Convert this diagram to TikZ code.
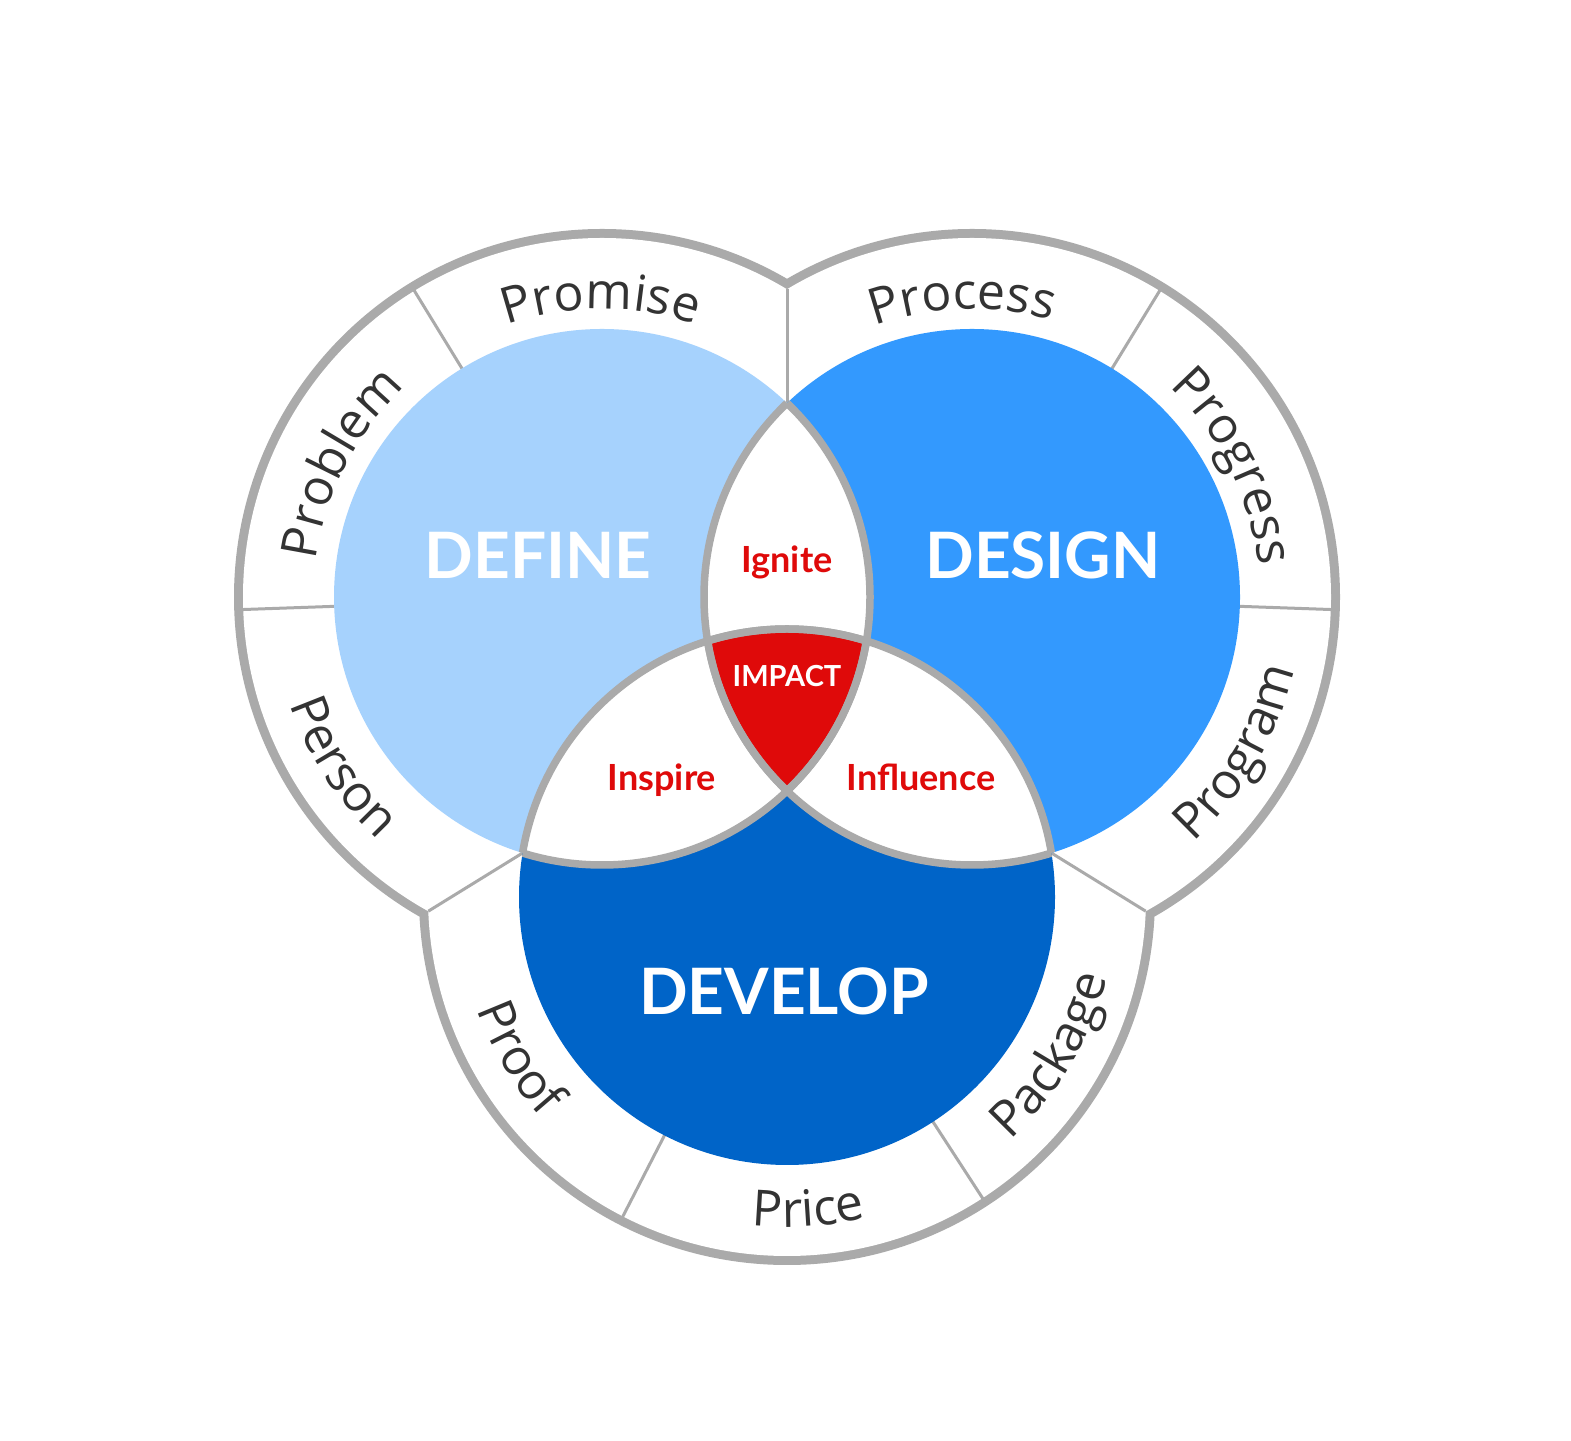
\documentclass[tikz,border=0pt]{standalone}
\usepackage{fontspec}
\usetikzlibrary{calc,decorations.text}
\newfontfamily\latofam{Lato}
\newfontfamily\ringfam{Open Sans}
\newcommand\ringfnt{\ringfam\fontsize{50}{56}\selectfont}
\definecolor{lblue}{HTML}{A6D2FD}
\definecolor{mblue}{HTML}{3399FE}
\definecolor{dblue}{HTML}{0064C8}
\definecolor{impred}{HTML}{DF0A0A}
\definecolor{ringgrey}{HTML}{AAAAAA}
\definecolor{ringtext}{HTML}{333333}
\begin{document}
\begin{tikzpicture}[x=1pt,y=1pt,
  outerstroke/.style={draw=ringgrey, line width=18pt},
  septhin/.style={draw=ringgrey, line width=3pt},
  lensline/.style={draw=ringgrey, line width=7.5pt},
  bigtitle/.style={text=white, font=\latofam\bfseries\fontsize{64}{70}\selectfont, anchor=base, inner sep=0pt},
  redlabel/.style={text=impred, font=\latofam\bfseries\fontsize{36}{40}\selectfont, anchor=base, inner sep=0pt},
  impactlabel/.style={text=white, font=\latofam\bfseries\fontsize{29}{32}\selectfont, anchor=base, inner sep=0pt},
  ringlabel/.style={decorate, decoration={text along path, text align=center, text color=ringtext}}]
\useasboundingbox (0,0) rectangle (1571,1440);
\fill[white] (0,0) rectangle (1571,1440);
% centres
\coordinate (A) at (602,843);
\coordinate (B) at (972,843);
\coordinate (C) at (787,543);
\def\ri{268}
\def\ro{359}
% junction points
\coordinate (iAB) at (787,1036.9);
\coordinate (oAB) at (787,1150.7);
\coordinate (iAC) at (522.6,587.0);
\coordinate (oAC) at (428.3,528.8);
\coordinate (iBC) at (1051.4,587.0);
\coordinate (oBC) at (1145.7,528.8);
% outer ring
\path[outerstroke] (A) circle[radius=\ro] (B) circle[radius=\ro] (C) circle[radius=\ro];
\fill[white] (A) circle[radius=\ro] (B) circle[radius=\ro] (C) circle[radius=\ro];
% separators
\draw[septhin] (iAB) -- (oAB);
\draw[septhin] (iAC) -- (oAC);
\draw[septhin] (iBC) -- (oBC);
\draw[septhin] ($(A)+(121.5:262)$) -- ($(A)+(121.5:362)$);
\draw[septhin] ($(A)+(182:262)$) -- ($(A)+(182:362)$);
\draw[septhin] ($(B)+(58.5:262)$) -- ($(B)+(58.5:362)$);
\draw[septhin] ($(B)+(-2:262)$) -- ($(B)+(-2:362)$);
\draw[septhin] ($(C)+(242.8:262)$) -- ($(C)+(242.8:362)$);
\draw[septhin] ($(C)+(303:262)$) -- ($(C)+(303:362)$);
% inner circles
\fill[lblue] (A) circle[radius=\ri];
\fill[mblue] (B) circle[radius=\ri];
\fill[dblue] (C) circle[radius=\ri];
% pairwise intersections
\begin{scope}
  \clip (A) circle[radius=\ri];
  \fill[white] (B) circle[radius=\ri];
  \fill[white] (C) circle[radius=\ri];
\end{scope}
\begin{scope}
  \clip (B) circle[radius=\ri];
  \fill[white] (C) circle[radius=\ri];
\end{scope}
\begin{scope}
  \clip (A) circle[radius=\ri];
  \clip (B) circle[radius=\ri];
  \fill[impred] (C) circle[radius=\ri];
\end{scope}
% lens outlines
\begin{scope}\clip (B) circle[radius=\ri]; \path[lensline] (A) circle[radius=\ri]; \path[lensline] (C) circle[radius=\ri];\end{scope}
\begin{scope}\clip (A) circle[radius=\ri]; \path[lensline] (B) circle[radius=\ri]; \path[lensline] (C) circle[radius=\ri];\end{scope}
\begin{scope}\clip (C) circle[radius=\ri]; \path[lensline] (A) circle[radius=\ri]; \path[lensline] (B) circle[radius=\ri];\end{scope}
% titles
\node[bigtitle] (define) at (538,861) {DEFINE};
\node[bigtitle] (design) at (1043,861) {DESIGN};
\node[bigtitle] (develop) at (784,425) {DEVELOP};
\node[redlabel] (ignite) at (787,867) {Ignite};
\node[impactlabel] (impact) at (787,753) {IMPACT};
\node[redlabel] (inspire) at (662,649.5) {Inspire};
\node[redlabel] (influence) at (921,649.5) {Influence};
% ring labels: outward (clockwise)
\path[ringlabel, decoration={text={|\ringfnt|Promise}}] ($(A)+(150.2:288)$) arc[start angle=150.2, end angle=30.2, radius=288];
\path[ringlabel, decoration={text={|\ringfnt|Problem}}] ($(A)+(212.9:288)$) arc[start angle=212.9, end angle=92.9, radius=288];
\path[ringlabel, decoration={text={|\ringfnt|Process}}] ($(B)+(151.9:288)$) arc[start angle=151.9, end angle=31.9, radius=288];
\path[ringlabel, decoration={text={|\ringfnt|Progress}}] ($(B)+(86.5:288)$) arc[start angle=86.5, end angle=-33.5, radius=288];
% ring labels: inward (counter-clockwise)
\path[ringlabel, decoration={text={|\ringfnt|Person}}] ($(A)+(153.2:330)$) arc[start angle=153.2, end angle=273.2, radius=330];
\path[ringlabel, decoration={text={|\ringfnt|Program}}] ($(B)+(-90.3:330)$) arc[start angle=-90.3, end angle=29.7, radius=330];
\path[ringlabel, decoration={text={|\ringfnt|Proof}}] ($(C)+(151:330)$) arc[start angle=151, end angle=271, radius=330];
\path[ringlabel, decoration={text={|\ringfnt|Price}}] ($(C)+(213.9:330)$) arc[start angle=213.9, end angle=333.9, radius=330];
\path[ringlabel, decoration={text={|\ringfnt|Package}}] ($(C)+(269.2:330)$) arc[start angle=269.2, end angle=389.2, radius=330];
\end{tikzpicture}
\end{document}
